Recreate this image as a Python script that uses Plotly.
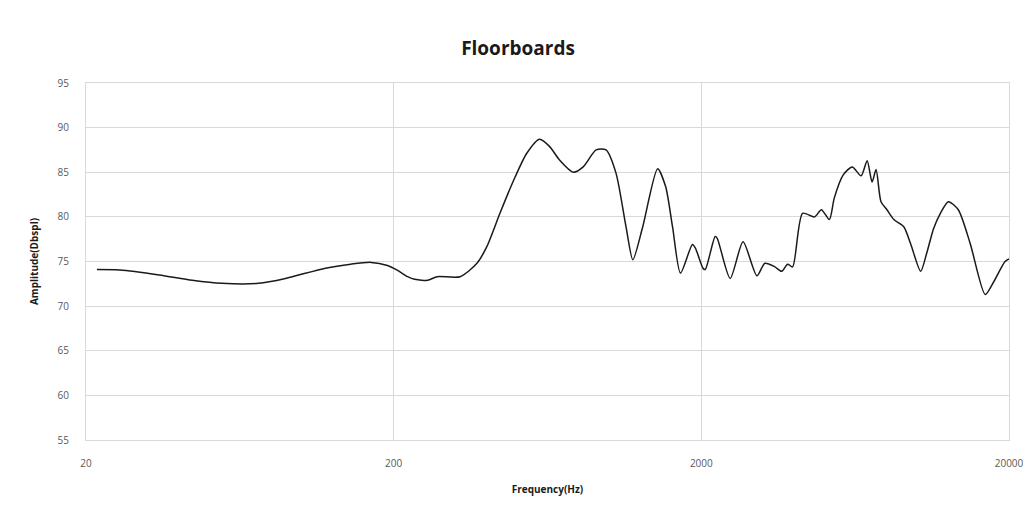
import plotly.graph_objects as go

# Frequency response of floorboards (Hz vs dB SPL)
freq_hz = [21.7, 25.7, 34.6, 44.3, 55.3, 72.8, 89, 120, 145, 169, 191, 206, 222, 234, 258, 277,
           329, 373, 402, 443, 491, 541, 596, 642, 691, 767, 826, 910, 980, 1056, 1138, 1198,
           1290, 1442, 1531, 1612, 1711, 1871, 1913, 2029, 2060, 2218, 2253, 2482, 2733, 3032,
           3217, 3467, 3650, 3815, 3961, 4266, 4666, 4912, 5213, 5408, 5784, 6186, 6613, 6918,
           7178, 7396, 7674, 8021, 8450, 9100, 9596, 10328, 10796, 11377, 11968, 12706, 13683,
           14964, 16740, 17758, 19414, 20000]
amplitude_db = [74.1, 74.05, 73.5, 72.9, 72.55, 72.55, 73.1, 74.25, 74.7, 74.9, 74.55, 74.0, 73.3,
                73.0, 72.9, 73.3, 73.3, 74.8, 76.7, 80.4, 84.1, 87.1, 88.7, 87.9, 86.4, 85.0,
                85.6, 87.5, 87.5, 84.9, 78.9, 75.2, 78.9, 85.4, 83.4, 78.9, 73.7, 76.9, 76.5,
                74.2, 74.1, 77.8, 77.6, 73.1, 77.2, 73.4, 74.8, 74.4, 73.9, 74.7, 74.4, 80.4,
                80.0, 80.8, 79.7, 82.1, 84.7, 85.6, 84.6, 86.3, 83.9, 85.3, 81.7, 80.8, 79.7,
                78.9, 76.9, 73.9, 75.9, 78.7, 80.4, 81.7, 80.8, 77.0, 71.3, 72.6, 75.0, 75.3]

x_ticks = [20, 200, 2000, 20000]
y_ticks = [55, 60, 65, 70, 75, 80, 85, 90, 95]

fig = go.Figure(go.Scatter(
    x=freq_hz, y=amplitude_db, mode="lines",
    line=dict(color="#1a1a1a", width=1.5, shape="spline", smoothing=0.7),
    hoverinfo="x+y",
))

grid = "#d9d9d9"
fig.update_layout(
    width=1036, height=506,
    margin=dict(l=86, r=21, t=83, b=66),
    paper_bgcolor="white", plot_bgcolor="white",
    showlegend=False,
    title=dict(text="<b>Floorboards</b>", x=0.5, xanchor="center", y=0.905, yanchor="middle",
               font=dict(family="Open Sans", size=19, color="#1a1a1a")),
    xaxis=dict(
        type="log", range=[1.30103, 4.30103],
        tickvals=x_ticks, ticktext=[str(v) for v in x_ticks],
        showgrid=True, gridcolor=grid, gridwidth=1,
        showline=True, linecolor=grid, linewidth=1, mirror=True,
        zeroline=False, ticks="", ticklabelstandoff=14,
        tickfont=dict(family="Open Sans", size=10, color="#595959"),
        title=dict(text="<b>Frequency(Hz)</b>", standoff=16,
                   font=dict(family="Open Sans", size=10, color="#1a1a1a")),
    ),
    yaxis=dict(
        range=[55, 95], tickvals=y_ticks,
        showgrid=True, gridcolor=grid, gridwidth=1,
        showline=True, linecolor=grid, linewidth=1, mirror=True,
        zeroline=False, ticks="", ticklabelstandoff=14,
        tickfont=dict(family="Open Sans", size=10, color="#595959"),
        title=dict(text="<b>Amplitude(Dbspl)</b>", standoff=17,
                   font=dict(family="Open Sans", size=10, color="#1a1a1a")),
    ),
)

fig.write_html("out.html")
